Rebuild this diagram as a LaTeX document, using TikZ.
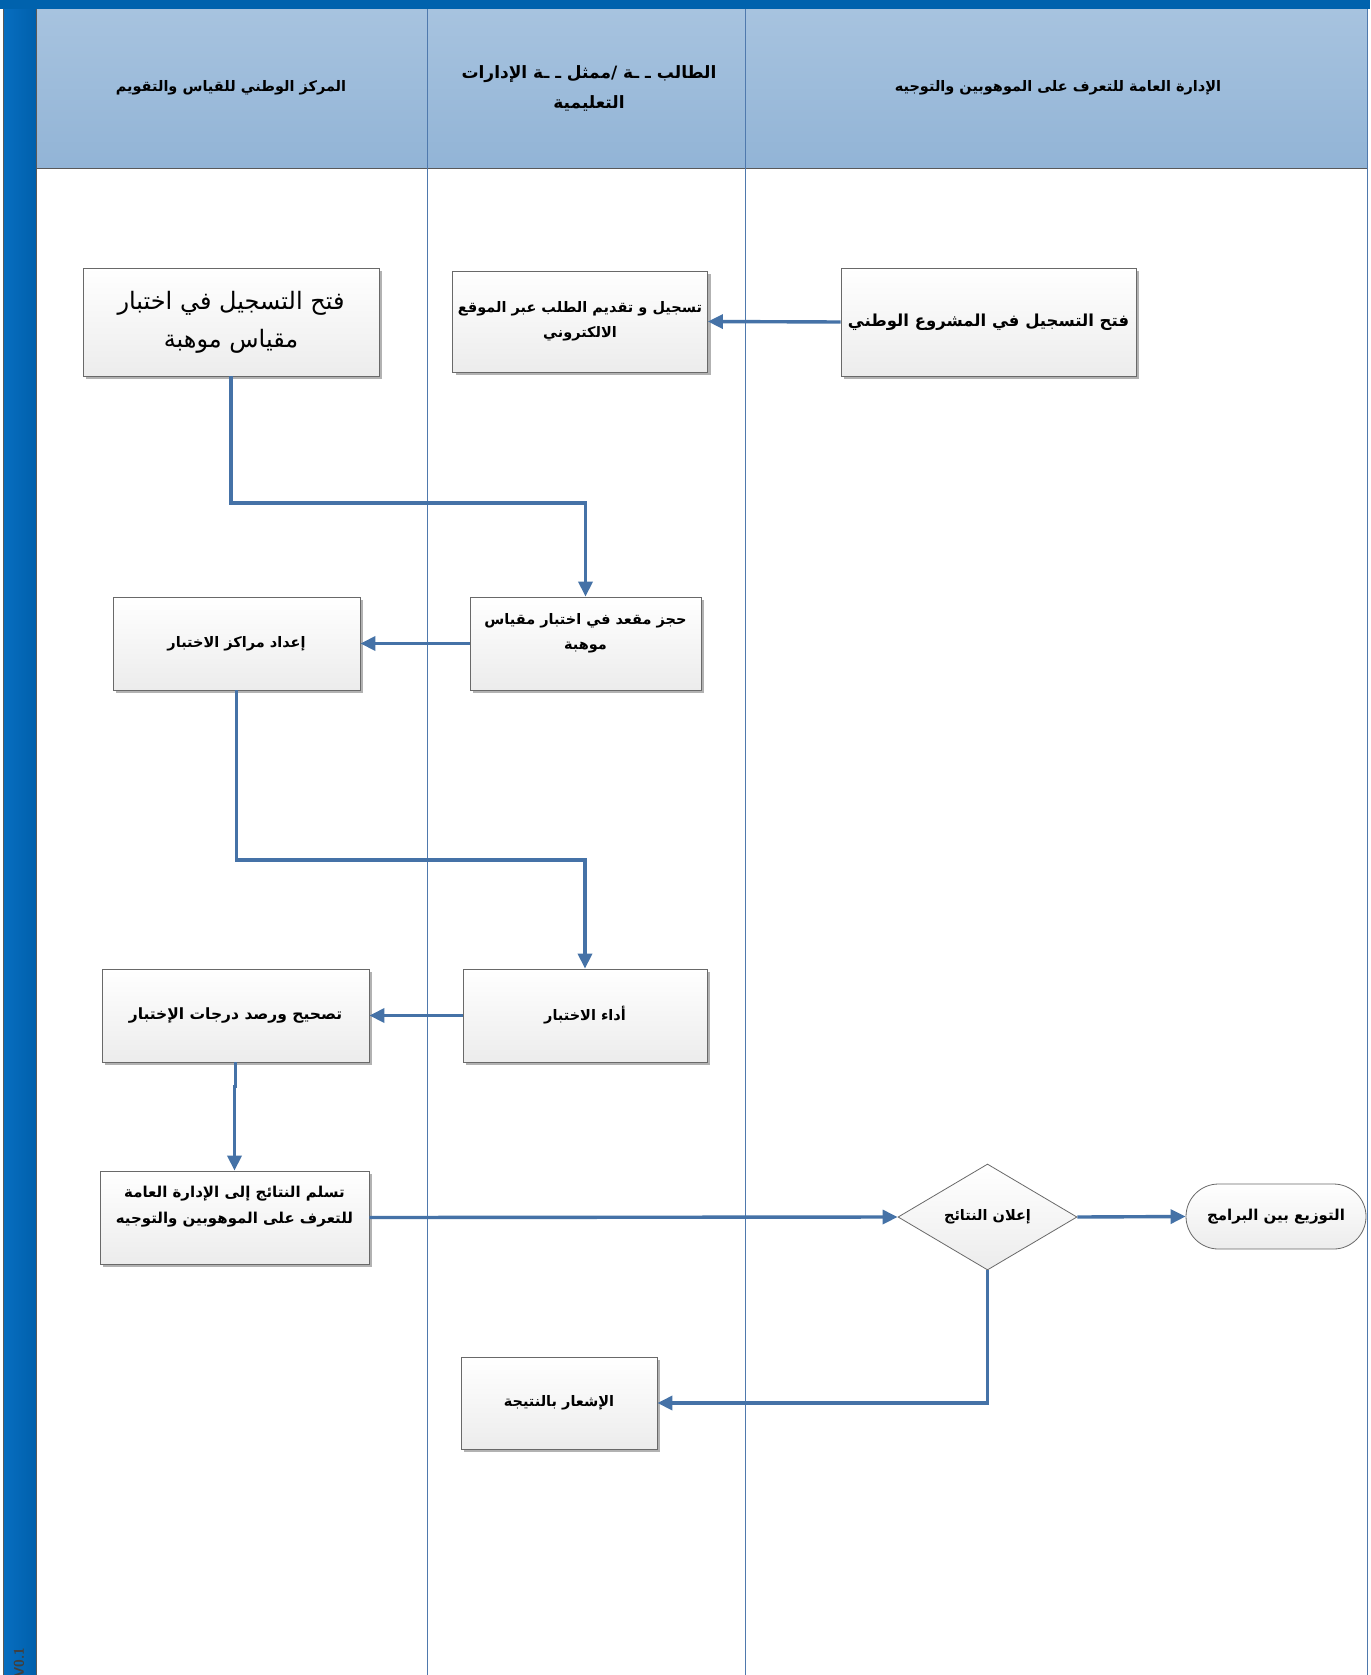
\documentclass[tikz,border=0pt]{standalone}
\usepackage{fontspec}
\newfontfamily\arabicfont[Script=Arabic]{DejaVu Sans}
\TeXXeTstate=1
\usetikzlibrary{arrows.meta,shapes.geometric,shapes.misc,shadows}
\definecolor{topbar}{RGB}{0,98,173}
\definecolor{stripc}{RGB}{8,110,192}
\definecolor{stripd}{RGB}{0,96,172}
\definecolor{headtop}{RGB}{167,195,223}
\definecolor{headbot}{RGB}{146,180,214}
\definecolor{lanec}{RGB}{79,121,173}
\definecolor{arrowc}{RGB}{69,114,167}
\definecolor{boxc}{RGB}{105,105,105}
\definecolor{boxbot}{RGB}{236,236,236}
\newcommand{\AR}[1]{\beginR #1\endR}
\begin{document}
\begin{tikzpicture}[x=1pt,y=-1pt,
  plainbox/.style={draw=boxc, line width=0.8pt, top color=white, bottom color=boxbot,
    inner sep=0pt, align=center, font=\arabicfont\bfseries\fontsize{14.5}{25}\selectfont},
  procbox/.style={plainbox,
    drop shadow={shadow xshift=3pt,shadow yshift=-3pt,fill=black,opacity=0.3}},
  headtext/.style={align=center, inner sep=0pt, font=\arabicfont\bfseries\fontsize{14.5}{30}\selectfont},
  flow/.style={draw=arrowc, line width=3.4pt, -{Triangle[length=15pt,width=14pt]}}]
\useasboundingbox (0,0) rectangle (1370,1675);
\fill[white] (0,0) rectangle (1370,1675);
% header
\shade[top color=headtop, bottom color=headbot] (36,9) rectangle (1367,168);
\draw[gray!70!black, line width=0.8pt] (36,168) -- (1367,168);
% lanes
\draw[lanec, line width=1pt] (427,9) -- (427,1680);
\draw[lanec, line width=1pt] (745,9) -- (745,1680);
\draw[lanec, line width=1pt] (1367,9) -- (1367,1680);
% left strip
\shade[left color=stripc, right color=stripd] (3,9) rectangle (36,1680);
\draw[gray!70!black, line width=0.8pt] (3,9) -- (3,1680) (36,9) -- (36,1680);
% top bar
\fill[topbar] (0,0) rectangle (1370,9);
\node[rotate=90, font=\sffamily\bfseries\fontsize{14}{16}\selectfont, text=black!75, inner sep=0pt, anchor=west] (ver) at (19,1678) {V0.1};
% headers
\node[headtext] (h1) at (231,88) {\AR{المركز الوطني للقياس والتقويم}};
\node[headtext, font=\arabicfont\bfseries\fontsize{17}{30}\selectfont] (h2) at (589,88) {\AR{الطالب ـ ـة /ممثل ـ ـة الإدارات}\\\AR{التعليمية}};
\node[headtext] (h3) at (1058,88) {\AR{الإدارة العامة للتعرف على الموهوبين والتوجيه}};
% boxes
\node[procbox, minimum width=296pt, minimum height=108pt, font=\arabicfont\fontsize{24}{38}\selectfont] (b1) at (231,322) {\AR{فتح التسجيل في اختبار}\\\AR{مقياس موهبة}};
\node[procbox, minimum width=255pt, minimum height=101pt] (b2) at (580,321.5) {\AR{تسجيل و تقديم الطلب عبر الموقع}\\\AR{الالكتروني}};
\node[procbox, minimum width=295pt, minimum height=108pt, font=\arabicfont\bfseries\fontsize{16.5}{25}\selectfont] (b3) at (988.5,322) {\AR{فتح  التسجيل في المشروع الوطني}};
\node[procbox, minimum width=231pt, minimum height=93pt] (b4) at (585.5,643.5) {\AR{حجز مقعد في اختبار مقياس}\\\AR{موهبة}\\\mbox{}};
\node[procbox, minimum width=247pt, minimum height=93pt] (b5) at (236.5,643.5) {\AR{إعداد مراكز الاختبار}};
\node[procbox, minimum width=244pt, minimum height=93pt] (b6) at (585,1015.5) {\AR{أداء الاختبار}};
\node[procbox, minimum width=267pt, minimum height=93pt, font=\arabicfont\bfseries\fontsize{15.5}{25}\selectfont] (b7) at (235.5,1015.5) {\AR{تصحيح ورصد درجات الإختبار}};
\node[procbox, minimum width=269pt, minimum height=93pt, font=\arabicfont\bfseries\fontsize{15}{26}\selectfont] (b8) at (234.5,1217.5) {\AR{تسلم النتائج إلى الإدارة  العامة}\\\AR{للتعرف على الموهوبين والتوجيه}\\\mbox{}};
\node[plainbox, diamond, minimum width=179pt, minimum height=106pt] (d1) at (987.5,1217) {\AR{إعلان النتائج}};
\node[plainbox, rounded rectangle, minimum width=180pt, minimum height=65pt, font=\arabicfont\bfseries\fontsize{15}{25}\selectfont] (t1) at (1276,1216.5) {\AR{التوزيع بين البرامج}};
\node[procbox, minimum width=196pt, minimum height=92pt] (b11) at (559,1403) {\AR{الإشعار بالنتيجة}};
% connectors
\draw[flow] (b3.west) -- (b2.east);
\draw[flow] (b1.south) -- (231,503) -| (b4.north);
\draw[flow] (b4.west) -- (b5.east);
\draw[flow] (b5.south) -- (236.5,860) -| (b6.north);
\draw[flow] (b6.west) -- (b7.east);
\draw[flow] (b7.south) -- ++(0,24) -| (b8.north);
\draw[flow] (b8.east) -- (d1.west);
\draw[flow] (d1.east) -- (t1.west);
\draw[flow] (d1.south) |- (b11.east);
\end{tikzpicture}
\end{document}
